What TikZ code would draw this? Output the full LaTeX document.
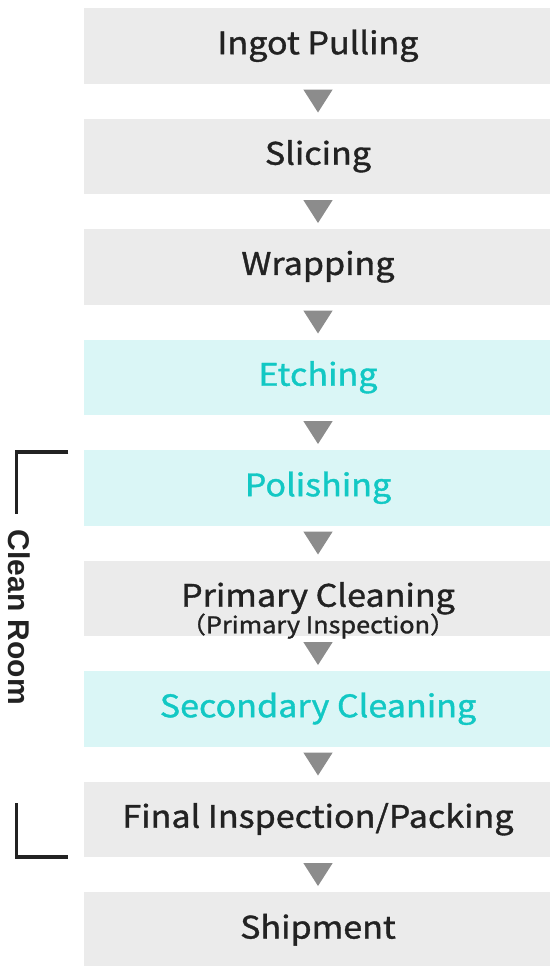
\documentclass[tikz,border=0pt]{standalone}
\usepackage{fontspec}
\setmainfont{Noto Sans CJK JP}[FakeStretch=1.1,FakeBold=1.2]
\newfontfamily\roomfont{Liberation Sans}
\usetikzlibrary{calc}
\definecolor{boxgray}{RGB}{235,235,235}
\definecolor{boxcyan}{RGB}{218,246,246}
\definecolor{txtcyan}{RGB}{18,200,196}
\definecolor{txtdark}{RGB}{34,34,34}
\definecolor{arrgray}{RGB}{140,140,140}
\begin{document}
\begin{tikzpicture}[line join=miter,x=1pt,y=-1pt,
  stage/.style={fill=boxgray,text=txtdark,inner sep=0pt,minimum width=468pt,minimum height=75.5pt,
    font=\fontsize{31}{34}\selectfont},
  clean/.style={stage,fill=boxcyan,text=txtcyan}]
\useasboundingbox (0,0) rectangle (549,966);
\node[stage] (ingot) at (318,45.75) {Ingot Pulling};
\node[stage] (slicing) at (318,156.25) {Slicing};
\node[stage] (wrapping) at (318,266.75) {Wrapping};
\node[clean] (etching) at (318,377.25) {Etching};
\node[clean] (polishing) at (318,487.75) {Polishing};
\node[stage,text height=72.8pt,text depth=2.7pt] (primary) at (318,598.25) {\begin{tabular}[b]{@{}c@{}}Primary Cleaning\\[-7.4pt]
  {\fontsize{23}{25}\selectfont （Primary Inspection）}\end{tabular}};
\node[clean] (secondary) at (318,708.75) {Secondary Cleaning};
\node[stage] (final) at (318,819.25) {Final Inspection/Packing};
\node[stage] (shipment) at (318,929.75) {Shipment};
% triangles between the steps
\foreach \a/\b in {ingot/slicing,slicing/wrapping,wrapping/etching,etching/polishing,
  polishing/primary,primary/secondary,secondary/final,final/shipment}
  \fill[arrgray] ($(\a.south)!.5!(\b.north)+(-14.7,-11.5)$) -- ++(29.4,0) -- ++(-14.7,23) -- cycle;
% clean room bracket
\node[rotate=-90,text=txtdark,font=\roomfont\bfseries\fontsize{30}{30}\selectfont] (room) at (19.5,617.5) {Clean Room};
\draw[txtdark,line width=3.5pt] (68.3,452) -- (16.7,452) -- (16.7,514);
\draw[txtdark,line width=3.5pt] (16.7,803) -- (16.7,857) -- (68.3,857);
\end{tikzpicture}
\end{document}
